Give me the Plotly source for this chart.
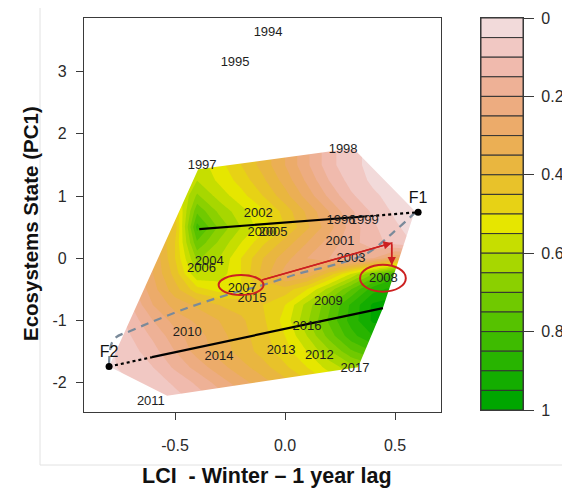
import colorsys
import plotly.graph_objects as go

# ---- data -------------------------------------------------------------
years = ["1994", "1995", "1996", "1997", "1998", "1999", "2000", "2001",
         "2002", "2003", "2004", "2005", "2006", "2007", "2008", "2009",
         "2010", "2011", "2012", "2013", "2014", "2015", "2016", "2017"]
lci = [-0.077, -0.227, 0.254, -0.377, 0.264, 0.36, -0.105, 0.25,
       -0.122, 0.30, -0.345, -0.055, -0.38, -0.195, 0.447, 0.197,
       -0.445, -0.61, 0.156, -0.018, -0.30, -0.15, 0.10, 0.318]
pc1 = [3.62, 3.15, 0.61, 1.48, 1.74, 0.61, 0.41, 0.26,
       0.71, 0.0, -0.06, 0.41, -0.17, -0.49, -0.33, -0.70,
       -1.20, -2.31, -1.56, -1.48, -1.59, -0.65, -1.10, -1.78]

# attractor states
state_names = ["F1", "F2"]
state_x = [0.605, -0.80]
state_y = [0.74, -1.74]

# probability surface on a regular grid (rows: bottom to top)
grid_x = [-0.8, -0.7, -0.6, -0.5, -0.4, -0.3, -0.2, -0.1, 0.0, 0.1, 0.2, 0.3, 0.4, 0.5, 0.6]
grid_y = [-2.25, -2.0, -1.75, -1.5, -1.25, -1.0, -0.75, -0.5, -0.25, 0.0,
          0.25, 0.5, 0.75, 1.0, 1.25, 1.5, 1.75]
prob = [
    [0.04, 0.04, 0.05, 0.08, 0.12, 0.17, 0.22, 0.28, 0.33, 0.40, 0.45, 0.50, 0.55, 0.55, 0.55],
    [0.04, 0.05, 0.07, 0.11, 0.16, 0.22, 0.28, 0.33, 0.38, 0.44, 0.50, 0.55, 0.60, 0.60, 0.60],
    [0.04, 0.07, 0.10, 0.16, 0.22, 0.28, 0.33, 0.38, 0.44, 0.50, 0.57, 0.63, 0.68, 0.70, 0.70],
    [0.04, 0.08, 0.13, 0.20, 0.27, 0.32, 0.37, 0.42, 0.48, 0.55, 0.64, 0.74, 0.80, 0.80, 0.80],
    [0.05, 0.10, 0.16, 0.23, 0.28, 0.33, 0.38, 0.43, 0.50, 0.60, 0.72, 0.83, 0.90, 0.90, 0.90],
    [0.06, 0.12, 0.20, 0.27, 0.31, 0.35, 0.39, 0.44, 0.52, 0.64, 0.76, 0.87, 0.96, 0.97, 0.95],
    [0.08, 0.15, 0.25, 0.32, 0.36, 0.40, 0.42, 0.45, 0.50, 0.62, 0.74, 0.86, 0.96, 0.98, 0.95],
    [0.10, 0.18, 0.28, 0.38, 0.48, 0.52, 0.50, 0.42, 0.42, 0.50, 0.62, 0.75, 0.88, 0.92, 0.90],
    [0.12, 0.20, 0.30, 0.42, 0.60, 0.58, 0.50, 0.38, 0.28, 0.30, 0.42, 0.55, 0.70, 0.82, 0.80],
    [0.15, 0.22, 0.30, 0.45, 0.66, 0.60, 0.50, 0.40, 0.32, 0.25, 0.20, 0.17, 0.20, 0.30, 0.30],
    [0.18, 0.24, 0.32, 0.45, 0.74, 0.64, 0.55, 0.46, 0.38, 0.30, 0.23, 0.17, 0.12, 0.08, 0.04],
    [0.22, 0.28, 0.34, 0.42, 0.82, 0.69, 0.60, 0.52, 0.45, 0.36, 0.27, 0.18, 0.11, 0.06, 0.02],
    [0.27, 0.32, 0.38, 0.45, 0.74, 0.64, 0.57, 0.51, 0.43, 0.34, 0.25, 0.16, 0.09, 0.04, 0.02],
    [0.32, 0.37, 0.43, 0.50, 0.66, 0.58, 0.52, 0.45, 0.37, 0.28, 0.19, 0.11, 0.06, 0.03, 0.02],
    [0.37, 0.42, 0.47, 0.53, 0.60, 0.54, 0.48, 0.41, 0.33, 0.24, 0.15, 0.08, 0.04, 0.03, 0.02],
    [0.42, 0.47, 0.52, 0.56, 0.58, 0.52, 0.45, 0.38, 0.30, 0.21, 0.12, 0.06, 0.04, 0.03, 0.02],
    [0.42, 0.47, 0.52, 0.56, 0.57, 0.52, 0.45, 0.38, 0.30, 0.21, 0.12, 0.06, 0.04, 0.03, 0.02],
]

# convex hull of the observations (surface is only defined inside it)
hull_x = [-0.395, 0.31, 0.59, 0.445, 0.332, -0.536, -0.80]
hull_y = [1.43, 1.77, 0.76, -0.80, -1.75, -2.21, -1.74]

# trend lines inside each state basin: solid part, dotted extension to attractor
upper_solid_x = [-0.39, 0.36]
upper_solid_y = [0.47, 0.672]
upper_dot_x = [0.36, 0.605]
upper_dot_y = [0.672, 0.74]
lower_solid_x = [-0.605, 0.445]
lower_solid_y = [-1.59, -0.80]
lower_dot_x = [-0.80, -0.605]
lower_dot_y = [-1.74, -1.59]

# transition path between the two attractors
path_x = [-0.80, -0.78, -0.69, -0.445, -0.236, -0.10, 0.068, 0.218, 0.373, 0.49, 0.59]
path_y = [-1.70, -1.31, -1.15, -0.80, -0.56, -0.43, -0.24, -0.11, 0.08, 0.41, 0.73]

# 2007 -> 2008 jump
jump_x = [-0.105, 0.485, 0.485]
jump_y = [-0.35, 0.245, -0.11]

# highlighted years (centre x, centre y, half width, half height)
ring_cx = [-0.20, 0.445]
ring_cy = [-0.43, -0.32]
ring_rx = [0.102, 0.104]
ring_ry = [0.16, 0.217]

levels = [round(0.05 * i, 2) for i in range(21)]
cbar_ticks = [0, 0.2, 0.4, 0.6, 0.8, 1]
cbar_ticktext = ["0", "0.2", "0.4", "0.6", "0.8", "1"]

# ---- palette (terrain colours, green = 1) -----------------------------
def terrain(n):
    k = n // 2
    out = []
    for i in range(k):
        t = i / (k - 1)
        out.append(colorsys.hsv_to_rgb(4 / 12 - 2 / 12 * t, 1.0, 0.65 + 0.25 * t))
    m = n - k
    for j in range(1, m + 1):
        t = j / m
        out.append(colorsys.hsv_to_rgb(2 / 12 * (1 - t), 1 - 0.9 * t, 0.9 + 0.05 * t))
    return ["rgb(%d,%d,%d)" % tuple(round(c * 255) for c in rgb) for rgb in out]

nb = len(levels) - 1
band_colors = list(reversed(terrain(nb)))  # band i covers levels[i]..levels[i+1]
colorscale = []
for i, c in enumerate(band_colors):
    colorscale.append([i / nb, c])
    colorscale.append([(i + 1) / nb, c])

FONT = "Liberation Sans, Arial, sans-serif"
W, H = 562, 491
XR = [-0.914, 0.709]
YR = [-2.471, 3.863]

fig = go.Figure()

fig.add_trace(go.Contour(
    x=grid_x, y=grid_y, z=prob, zmin=0, zmax=1,
    contours=dict(start=levels[0], end=levels[-1], size=0.05, coloring="fill"),
    line=dict(width=0, smoothing=0), colorscale=colorscale,
    showscale=False, hoverinfo="skip"))

# white out everything outside the hull (outer box + reversed hull)
bx0, bx1, by0, by1 = -1.5, 1.2, -3.5, 4.5
mask_x = [bx0, bx0, bx1, bx1, bx0] + [hull_x[-1]] + hull_x[::-1] + [hull_x[-1], bx0]
mask_y = [by0, by1, by1, by0, by0] + [hull_y[-1]] + hull_y[::-1] + [hull_y[-1], by0]
fig.add_trace(go.Scatter(x=mask_x, y=mask_y, mode="lines", fill="toself",
                         fillcolor="white", line=dict(width=0, color="white"),
                         hoverinfo="skip", showlegend=False))

fig.add_trace(go.Scatter(x=path_x, y=path_y, mode="lines",
                         line=dict(color="#7a8a9a", width=2.2, dash="8px,6px", shape="spline"),
                         hoverinfo="skip", showlegend=False))
for xs, ys in [(upper_solid_x, upper_solid_y), (lower_solid_x, lower_solid_y)]:
    fig.add_trace(go.Scatter(x=xs, y=ys, mode="lines",
                             line=dict(color="black", width=2.2),
                             hoverinfo="skip", showlegend=False))
for xs, ys in [(upper_dot_x, upper_dot_y), (lower_dot_x, lower_dot_y)]:
    fig.add_trace(go.Scatter(x=xs, y=ys, mode="lines",
                             line=dict(color="black", width=2.2, dash="dot"),
                             hoverinfo="skip", showlegend=False))

# jump arrows
fig.add_trace(go.Scatter(x=jump_x, y=jump_y, mode="lines",
                         line=dict(color="#cc2020", width=1.5),
                         hoverinfo="skip", showlegend=False))
for i in range(1, len(jump_x)):
    fig.add_annotation(x=jump_x[i], y=jump_y[i], ax=jump_x[i - 1], ay=jump_y[i - 1],
                       xref="x", yref="y", axref="x", ayref="y", text="",
                       showarrow=True, arrowhead=2, arrowsize=1.1, arrowwidth=1.5,
                       arrowcolor="#cc2020")

fig.add_trace(go.Scatter(x=lci, y=pc1, mode="text", text=years,
                         textfont=dict(family=FONT, size=13, color="#1e1e1e"),
                         hoverinfo="skip", showlegend=False))

fig.add_trace(go.Scatter(x=state_x, y=state_y, mode="markers+text", text=state_names,
                         textposition="top center",
                         textfont=dict(family=FONT, size=16, color="#111"),
                         marker=dict(color="black", size=7),
                         hoverinfo="skip", showlegend=False))

for cx, cy, rx, ry in zip(ring_cx, ring_cy, ring_rx, ring_ry):
    fig.add_shape(type="circle", xref="x", yref="y",
                  x0=cx - rx, x1=cx + rx, y0=cy - ry, y1=cy + ry,
                  line=dict(color="#cc2020", width=2))

# colour key
fig.add_trace(go.Bar(x=[0] * nb, y=[levels[i + 1] - levels[i] for i in range(nb)],
                     base=levels[:-1], width=1, marker=dict(color=band_colors,
                     line=dict(color="#333", width=1)),
                     xaxis="x2", yaxis="y2", hoverinfo="skip", showlegend=False))

axis_common = dict(showgrid=False, zeroline=False, showline=True, mirror=True,
                   linecolor="#3a3a3a", linewidth=1.2, ticks="outside",
                   tickcolor="#3a3a3a", ticklen=7, automargin=False,
                   tickfont=dict(family=FONT, size=16, color="#2a2a2a"))

fig.update_layout(
    width=W, height=H, autosize=False, margin=dict(l=0, r=0, t=0, b=0, pad=0),
    paper_bgcolor="white", plot_bgcolor="white", showlegend=False,
    xaxis=dict(domain=[84 / W, 441 / W], range=XR, tickvals=[-0.5, 0, 0.5],
               ticktext=["-0.5", "0.0", "0.5"], ticklabelstandoff=12, **axis_common),
    yaxis=dict(domain=[1 - 412 / H, 1 - 18 / H], range=YR, tickvals=[-2, -1, 0, 1, 2, 3],
               ticktext=["-2", "-1", "0", "1", "2", "3"], ticklabelstandoff=6,
               **axis_common),
    xaxis2=dict(domain=[481 / W, 523 / W], range=[-0.5, 0.5], showticklabels=False,
                ticks="", showgrid=False, zeroline=False, showline=True, mirror=True,
                linecolor="#3a3a3a", linewidth=1.2, anchor="y2", automargin=False),
    yaxis2=dict(domain=[1 - 410 / H, 1 - 18 / H], range=[1, 0], side="right",
                anchor="x2", tickvals=cbar_ticks, ticktext=cbar_ticktext,
                showgrid=False, zeroline=False, showline=True, mirror=True,
                linecolor="#3a3a3a", linewidth=1.2, ticks="outside", ticklen=10,
                tickcolor="#3a3a3a", ticklabelstandoff=4, automargin=False,
                tickfont=dict(family=FONT, size=16, color="#2a2a2a")),
)

# axis titles
fig.add_annotation(xref="paper", yref="paper", x=267 / W, y=1 - 476 / H,
                   xanchor="center", yanchor="middle",
                   text="LCI  - Winter \u2013 1 year lag", showarrow=False,
                   font=dict(family=FONT, size=21.5, color="#111", weight="bold"))
fig.add_annotation(xref="paper", yref="paper", x=30 / W, y=1 - 224 / H,
                   xanchor="center", yanchor="middle",
                   text="Ecosystems State (PC1)", showarrow=False, textangle=-90,
                   font=dict(family=FONT, size=20.5, color="#111", weight="bold"))

# thin page frame
fig.add_shape(type="line", xref="paper", yref="paper", x0=40 / W, x1=40 / W,
              y0=1 - 465 / H, y1=1 - 8 / H, line=dict(color="#e2e2e2", width=1))
fig.add_shape(type="line", xref="paper", yref="paper", x0=40 / W, x1=1,
              y0=1 - 465 / H, y1=1 - 465 / H, line=dict(color="#e2e2e2", width=1))

fig.write_html("out.html")
